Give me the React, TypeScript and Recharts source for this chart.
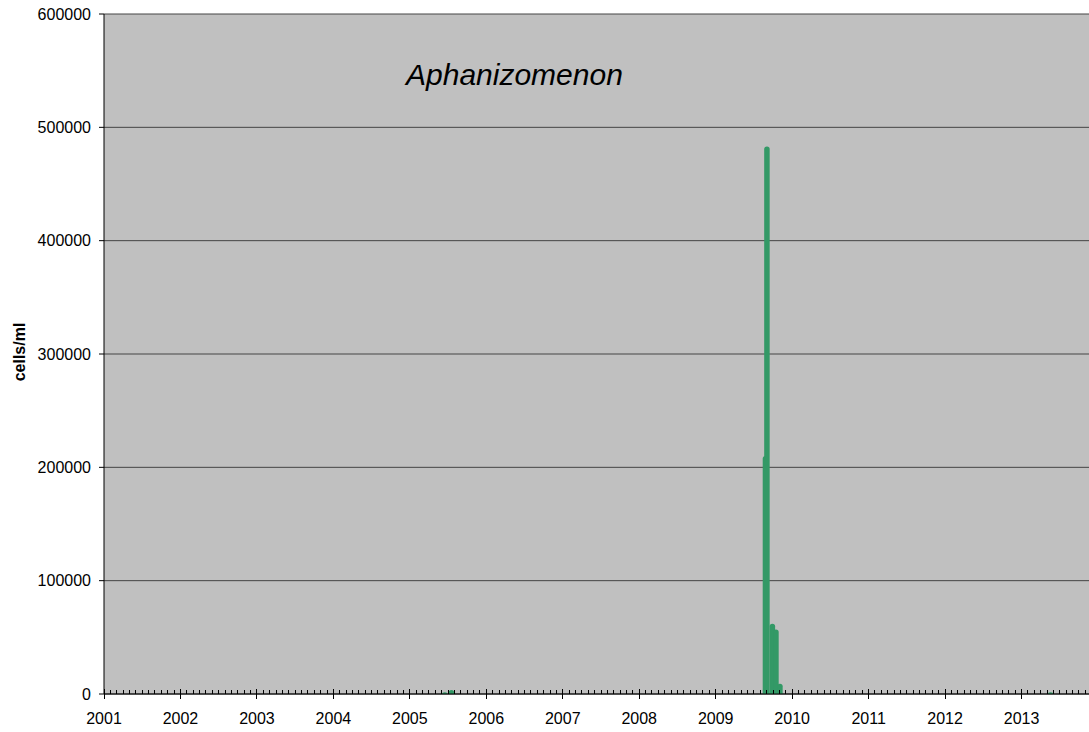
import React from "react";
import { ComposedChart, Bar, XAxis, YAxis, CartesianGrid } from "recharts";

// Sample dates (non-zero counts only) and Aphanizomenon counts, cells/ml
const sampleDates = [
  "2005-06-17",
  "2005-07-19",
  "2009-08-27",
  "2009-09-03",
  "2009-09-29",
  "2009-10-16",
  "2009-11-04",
  "2013-05-20",
];
const cellCounts = [1500, 3500, 210000, 483000, 62000, 57000, 9000, 1500];

const yTicks = [0, 100000, 200000, 300000, 400000, 500000, 600000];
const firstYear = 2001;
const lastYear = 2013;

const toDecimalYear = (s: string) => {
  const d = new Date(s + "T00:00:00Z");
  const y = d.getUTCFullYear();
  const start = Date.UTC(y, 0, 1);
  const end = Date.UTC(y + 1, 0, 1);
  return y + (d.getTime() - start) / (end - start);
};

const data = sampleDates.map((s, i) => ({ x: toDecimalYear(s), v: cellCounts[i] }));

const monthTicks: number[] = [];
for (let y = firstYear; y <= lastYear; y++) {
  for (let m = 0; m < 12; m++) monthTicks.push(y + m / 12);
}

const FONT = "'Liberation Sans', Arial, sans-serif";
const BAR_W = 5.5;

const SampleBar = (props: any) => {
  const { x, y, width, height, fill } = props;
  if (!height || height <= 0) return null;
  const cx = x + width / 2;
  const l = cx - BAR_W / 2;
  const r = cx + BAR_W / 2;
  const b = y + height;
  const rad = Math.min(2.5, height);
  const d = `M${l},${b} L${l},${y + rad} Q${l},${y} ${cx},${y} Q${r},${y} ${r},${y + rad} L${r},${b} Z`;
  return <path d={d} fill={fill} />;
};

const XTick = (props: any) => {
  const { x, y, payload } = props;
  const v = payload.value as number;
  const major = Math.abs(v - Math.round(v)) < 1e-6;
  if (major) {
    return (
      <g>
        <line x1={x} x2={x} y1={y - 5} y2={y + 5} stroke="#000" shapeRendering="crispEdges" />
        <text
          x={x}
          y={y + 24}
          textAnchor="middle"
          dominantBaseline="central"
          fontFamily={FONT}
          fontSize={16}
          fill="#000"
        >
          {Math.round(v)}
        </text>
      </g>
    );
  }
  return <line x1={x} x2={x} y1={y - 4} y2={y} stroke="#000" shapeRendering="crispEdges" />;
};

const YLabel = (props: any) => {
  const vb = props.viewBox || { x: 0, y: 0, width: 0, height: 0 };
  const cx = vb.x + 19;
  const cy = vb.y + vb.height / 2 - 2;
  return (
    <text
      x={cx}
      y={cy}
      transform={`rotate(-90 ${cx} ${cy})`}
      textAnchor="middle"
      dominantBaseline="central"
      fontFamily={FONT}
      fontSize={16}
      fontWeight="bold"
      fill="#000"
    >
      cells/ml
    </text>
  );
};

export default function App() {
  return (
    <div
      style={{
        position: "absolute",
        left: 0,
        top: 0,
        width: 1089,
        height: 732,
        overflow: "hidden",
        background: "#fff",
      }}
    >
      <ComposedChart
        width={1118}
        height={732}
        data={data}
        margin={{ top: 14, right: 20, bottom: 8, left: 0 }}
      >
        <CartesianGrid
          horizontal={true}
          vertical={false}
          stroke="#444"
          fill="#c0c0c0"
          fillOpacity={1}
        />
        <Bar
          dataKey="v"
          fill="#339966"
          shape={<SampleBar />}
          isAnimationActive={false}
        />
        <XAxis
          dataKey="x"
          type="number"
          domain={[2001, 2014]}
          ticks={monthTicks}
          interval={0}
          height={30}
          tickSize={0}
          tickMargin={0}
          tickLine={false}
          axisLine={{ stroke: "#000" }}
          tick={<XTick />}
          allowDataOverflow
        />
        <YAxis
          type="number"
          domain={[0, 600000]}
          ticks={yTicks}
          interval={0}
          width={104}
          tickSize={5}
          tickMargin={8}
          tickLine={{ stroke: "#000" }}
          axisLine={{ stroke: "#000" }}
          tick={{ fontFamily: FONT, fontSize: 16, fill: "#000" }}
          label={<YLabel />}
        />
      </ComposedChart>
      <div
        style={{
          position: "absolute",
          left: 406,
          top: 60,
          fontFamily: FONT,
          fontSize: 30,
          fontStyle: "italic",
          lineHeight: 1,
          color: "#000",
          whiteSpace: "nowrap",
        }}
      >
        Aphanizomenon
      </div>
    </div>
  );
}
